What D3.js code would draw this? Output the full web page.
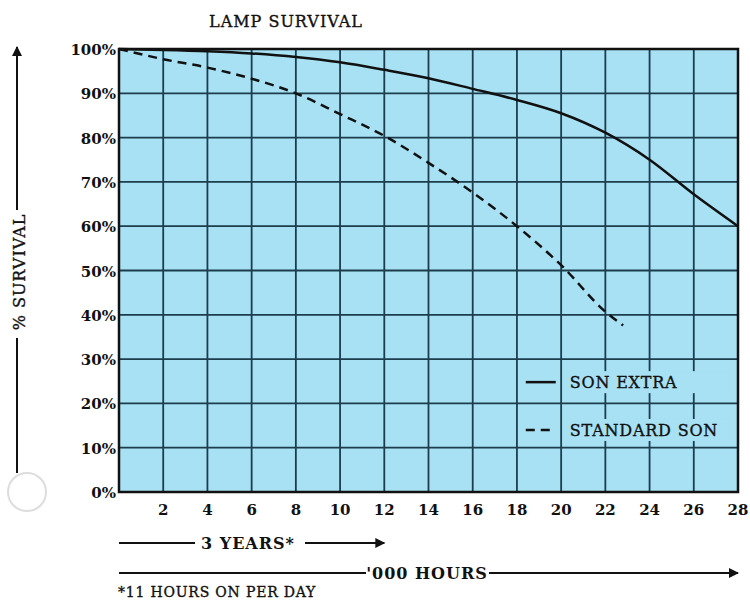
<!DOCTYPE html>
<html>
<head>
<meta charset="utf-8">
<script src="https://cdn.jsdelivr.net/npm/d3@7"></script>
<style>
  body { margin: 0; background: #fff; }
  text { font-family: "DejaVu Serif", "Liberation Serif", serif; fill: #111; }
  .heavy { stroke: #111; stroke-width: 0.35px; }
</style>
</head>
<body>
<svg id="chart" width="750" height="602"></svg>
<script>
// data
const hours = [0, 2, 4, 6, 8, 10, 12, 14, 16, 18, 20, 22, 24, 26, 28];
const sonExtra = [100, 99.8, 99.5, 99, 98.2, 97, 95.3, 93.4, 91, 88.5, 85.5, 81.1, 75, 67.2, 60];
const standardHours = [0, 2, 4, 6, 8, 10, 12, 14, 16, 18, 20, 22, 22.8];
const standardSon = [100, 97.7, 95.8, 93.3, 90, 85.3, 80.4, 74.3, 67.6, 60, 51.2, 40.7, 37.6];
const xTicks = [2, 4, 6, 8, 10, 12, 14, 16, 18, 20, 22, 24, 26, 28];
const yTicks = [0, 10, 20, 30, 40, 50, 60, 70, 80, 90, 100];
const legendNames = ["SON EXTRA", "STANDARD SON"];
const yearsEnd = 12; // 3 years at 11 h/day ~ 12,000 hours

const margin = {top: 49, right: 12, bottom: 110, left: 119};
const width = 738 - margin.left;
const height = 492 - margin.top;

const svg = d3.select("#chart");
const g = svg.append("g").attr("transform", `translate(${margin.left},${margin.top})`);

const x = d3.scaleLinear().domain([0, 28]).range([0, width]);
const y = d3.scaleLinear().domain([0, 100]).range([height, 0]);

// plot background
g.append("rect")
  .attr("width", width).attr("height", height)
  .attr("fill", "#a7e1f3");

// grid
g.append("g").selectAll("line").data(xTicks.slice(0, -1)).join("line")
  .attr("x1", d => x(d)).attr("x2", d => x(d))
  .attr("y1", 0).attr("y2", height)
  .attr("stroke", "#1d3d4d").attr("stroke-width", 1.8);
g.append("g").selectAll("line").data(yTicks.slice(1, -1)).join("line")
  .attr("x1", 0).attr("x2", width)
  .attr("y1", d => y(d)).attr("y2", d => y(d))
  .attr("stroke", "#1d3d4d").attr("stroke-width", 1.8);

// legend backing (covers vertical grid lines behind the text)
const legendY = [24.8, 14];
g.append("g").selectAll("rect").data(legendY).join("rect")
  .attr("x", x(20.3)).attr("width", x(27.6) - x(20.3))
  .attr("y", d => y(d) - 11).attr("height", 22)
  .attr("fill", "#a7e1f3");

// frame
g.append("rect")
  .attr("width", width).attr("height", height)
  .attr("fill", "none").attr("stroke", "#111").attr("stroke-width", 2.5);

// y axis labels
g.append("g").selectAll("text").data(yTicks).join("text")
  .attr("x", -3).attr("y", d => y(d) + 6)
  .attr("text-anchor", "end")
  .style("font-size", "15px").style("font-weight", "bold")
  .text(d => d + "%");

// x axis labels
g.append("g").selectAll("text").data(xTicks).join("text")
  .attr("x", d => x(d)).attr("y", height + 23)
  .attr("text-anchor", "middle")
  .style("font-size", "15px").style("font-weight", "bold")
  .text(d => d);

// curves
const line = d3.line().x(d => x(d[0])).y(d => y(d[1])).curve(d3.curveMonotoneX);
g.append("path")
  .datum(d3.zip(hours, sonExtra))
  .attr("d", line)
  .attr("fill", "none").attr("stroke", "#111").attr("stroke-width", 2.5);
g.append("path")
  .datum(d3.zip(standardHours, standardSon))
  .attr("d", line)
  .attr("fill", "none").attr("stroke", "#111").attr("stroke-width", 2.5)
  .attr("stroke-dasharray", "9,6");

// legend
const leg = g.append("g").selectAll("g").data(legendNames).join("g")
  .attr("transform", (d, i) => `translate(${x(18.4)},${y(legendY[i])})`);
leg.append("line")
  .attr("x1", 0).attr("x2", 30)
  .attr("stroke", "#111").attr("stroke-width", 2.5)
  .attr("stroke-dasharray", (d, i) => i ? "9,6" : null);
leg.append("text")
  .attr("class", "heavy")
  .attr("x", 44).attr("y", 6)
  .style("font-size", "16px")
  .style("letter-spacing", "0.8px")
  .text(d => d);

// title
svg.append("text")
  .attr("class", "heavy")
  .attr("x", 209).attr("y", 27)
  .style("font-size", "16px")
  .style("letter-spacing", "1px")
  .text("LAMP SURVIVAL");

// y axis title with arrow
svg.append("defs").append("marker")
  .attr("id", "arrow")
  .attr("viewBox", "0 0 10 10")
  .attr("refX", 9).attr("refY", 5)
  .attr("markerWidth", 7).attr("markerHeight", 5)
  .attr("orient", "auto")
  .append("path").attr("d", "M0,0L10,5L0,10z").attr("fill", "#111");

svg.append("line")
  .attr("x1", 17).attr("x2", 17).attr("y1", 210).attr("y2", 47)
  .attr("stroke", "#111").attr("stroke-width", 2)
  .attr("marker-end", "url(#arrow)");
svg.append("line")
  .attr("x1", 17).attr("x2", 17).attr("y1", 338).attr("y2", 473)
  .attr("stroke", "#111").attr("stroke-width", 2);
svg.append("circle")
  .attr("cx", 27).attr("cy", 492).attr("r", 19)
  .attr("fill", "none").attr("stroke", "#ddd").attr("stroke-width", 2);
svg.append("text")
  .attr("class", "heavy")
  .attr("transform", "translate(25,272) rotate(-90)")
  .attr("text-anchor", "middle")
  .style("font-size", "16px")
  .style("letter-spacing", "1px")
  .text("% SURVIVAL");

// years / hours arrows under the x axis
const yrY = margin.top + height + 51;
const hrY = margin.top + height + 81;
svg.append("line")
  .attr("x1", margin.left).attr("x2", 195).attr("y1", yrY).attr("y2", yrY)
  .attr("stroke", "#111").attr("stroke-width", 2);
svg.append("text")
  .attr("x", 248).attr("y", yrY + 6).attr("text-anchor", "middle")
  .style("font-size", "16px").style("font-weight", "bold")
  .style("letter-spacing", "1px")
  .text("3 YEARS*");
svg.append("line")
  .attr("x1", 305).attr("x2", margin.left + x(yearsEnd)).attr("y1", yrY).attr("y2", yrY)
  .attr("stroke", "#111").attr("stroke-width", 2)
  .attr("marker-end", "url(#arrow)");

svg.append("line")
  .attr("x1", margin.left).attr("x2", 366).attr("y1", hrY).attr("y2", hrY)
  .attr("stroke", "#111").attr("stroke-width", 2);
svg.append("text")
  .attr("x", 427).attr("y", hrY + 6).attr("text-anchor", "middle")
  .style("font-size", "16px").style("font-weight", "bold")
  .style("letter-spacing", "1px")
  .text("'000 HOURS");
svg.append("line")
  .attr("x1", 489).attr("x2", margin.left + x(28)).attr("y1", hrY).attr("y2", hrY)
  .attr("stroke", "#111").attr("stroke-width", 2)
  .attr("marker-end", "url(#arrow)");

svg.append("text")
  .attr("class", "heavy")
  .attr("x", 118).attr("y", 597)
  .style("font-size", "14px")
  .style("letter-spacing", "0.8px")
  .text("*11 HOURS ON PER DAY");
</script>
</body>
</html>
